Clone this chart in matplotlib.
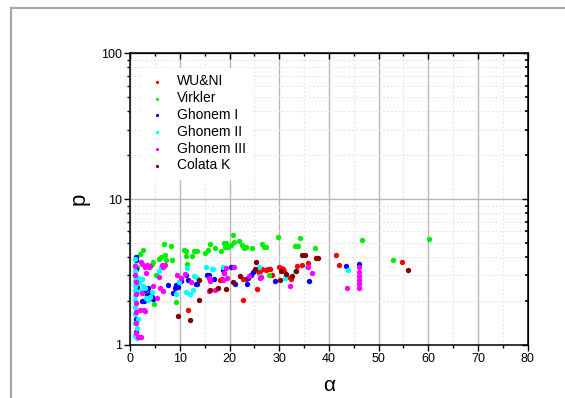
import matplotlib
matplotlib.use("Agg")
import matplotlib.pyplot as plt
import matplotlib.ticker as mticker
from matplotlib.lines import Line2D

plt.rcParams["font.family"] = ["Liberation Sans", "DejaVu Sans"]

# (alpha, p), one list per data set
wuni = [(11.7, 1.75), (18.0, 2.8), (18.5, 2.85), (22.6, 2.04), (22.7, 2.85), (23.2, 2.82),
        (25.4, 3.25), (25.6, 2.42), (26.0, 3.12), (26.2, 3.2), (26.5, 3.3), (27.4, 3.25),
        (27.8, 3.3), (28.1, 3.3), (28.5, 3.02), (30.0, 3.42), (30.3, 3.38), (30.7, 3.32),
        (30.9, 3.23), (31.5, 2.94), (32.3, 2.83), (33.6, 3.48), (34.5, 3.55), (35.8, 3.65),
        (41.5, 4.17), (42.1, 3.55), (54.8, 3.72)]

virkler = [(1.3, 3.4), (1.9, 4.2), (2.5, 4.5), (2.6, 2.3), (3.9, 3.5), (4.4, 3.6), (4.6, 3.7),
           (5.1, 3.0), (4.7, 1.92), (5.7, 3.9), (6.1, 4.0), (6.8, 4.9), (7.0, 4.15), (7.1, 3.85),
           (8.1, 4.75), (8.3, 3.85), (9.3, 1.96), (10.9, 4.5), (11.2, 4.1), (11.2, 4.4),
           (11.5, 3.6), (12.4, 4.1), (12.9, 4.4), (13.4, 4.4), (15.1, 4.25), (15.7, 4.45),
           (16.1, 4.9), (17.0, 4.6), (18.3, 4.4), (18.8, 5.0), (19.0, 4.7), (19.3, 5.0),
           (19.6, 4.7), (20.2, 4.85), (20.6, 5.7), (20.9, 5.05), (21.9, 5.15), (22.4, 4.85),
           (22.8, 4.6), (23.3, 4.7), (24.6, 4.6), (26.6, 4.95), (26.9, 4.7), (27.3, 4.7),
           (27.9, 3.0), (29.7, 5.5), (33.1, 4.8), (33.7, 4.8), (34.2, 5.4), (37.1, 4.6),
           (46.7, 5.25), (52.9, 3.8), (60.2, 5.35)]

ghonem1 = [(1.05, 4.0), (1.05, 3.85), (1.1, 3.3), (1.2, 2.7), (1.3, 2.5), (1.15, 1.23),
           (1.1, 1.5), (2.3, 2.0), (2.7, 2.0), (3.0, 2.4), (3.3, 2.2), (3.6, 2.45), (3.8, 2.2),
           (4.0, 2.27), (4.3, 2.15), (4.6, 2.07), (7.6, 2.58), (8.5, 2.28), (9.0, 2.45),
           (9.3, 2.56), (9.6, 2.5), (9.9, 2.69), (10.3, 2.76), (11.3, 3.02), (11.7, 2.8),
           (13.2, 2.6), (13.5, 2.62), (15.4, 3.02), (15.9, 3.04), (16.9, 2.85), (18.7, 3.27),
           (18.9, 3.1), (20.3, 3.42), (21.0, 2.6), (23.4, 2.6), (23.7, 2.87), (24.4, 3.02),
           (24.8, 3.15), (29.1, 2.76), (36.0, 2.76), (43.4, 3.48), (46.0, 3.58)]

ghonem2 = [(1.0, 3.9), (1.0, 3.55), (1.0, 3.2), (1.0, 2.95), (1.0, 2.75), (1.0, 2.55),
           (1.0, 2.38), (1.0, 2.2), (1.0, 2.02), (1.0, 1.82), (1.0, 1.62), (1.0, 1.42),
           (1.0, 1.15), (1.4, 1.12), (1.3, 1.3), (1.5, 1.5), (1.3, 2.3), (1.6, 2.9), (1.8, 2.65),
           (2.1, 2.4), (2.3, 2.85), (2.6, 2.55), (2.9, 2.45), (3.1, 2.1), (3.5, 2.05),
           (3.9, 2.12), (4.4, 2.3), (5.7, 3.2), (6.2, 3.4), (6.6, 3.45), (9.2, 2.25), (9.8, 2.7),
           (11.3, 2.3), (11.5, 3.35), (12.0, 2.22), (12.6, 2.38), (12.9, 2.95), (13.4, 2.88),
           (15.3, 3.4), (16.4, 3.3), (16.7, 3.32), (18.6, 3.45), (26.0, 3.4), (26.2, 2.95),
           (31.1, 2.86), (33.1, 3.22), (35.6, 3.45), (43.8, 3.27), (46.0, 2.67)]

ghonem3 = [(1.0, 3.5), (0.95, 3.02), (1.05, 2.7), (1.05, 2.25), (1.05, 1.93), (1.05, 1.69),
           (1.05, 1.41), (1.1, 1.2), (1.5, 1.14), (1.9, 1.14), (2.1, 1.13), (2.2, 3.7),
           (2.3, 3.6), (2.3, 2.26), (1.95, 1.75), (2.8, 1.74), (2.9, 1.7), (3.0, 3.45),
           (3.1, 3.1), (3.4, 3.55), (3.8, 3.42), (3.9, 3.5), (4.5, 2.52), (5.3, 2.09),
           (5.8, 2.91), (6.0, 2.45), (6.3, 3.55), (6.5, 3.45), (6.5, 2.33), (7.0, 3.55),
           (9.5, 3.02), (10.3, 2.86), (11.0, 3.05), (12.2, 2.69), (15.8, 2.9), (16.0, 2.74),
           (15.9, 2.33), (17.0, 2.4), (18.7, 2.81), (18.9, 3.1), (19.3, 3.36), (19.5, 2.87),
           (20.9, 3.42), (23.8, 2.95), (26.1, 2.87), (26.4, 2.92), (32.1, 2.54), (35.7, 3.45),
           (36.5, 3.12), (43.7, 2.45), (46.0, 3.4), (46.0, 3.18), (46.0, 2.98), (46.0, 2.8),
           (46.0, 2.62), (46.0, 2.44)]

colata = [(9.6, 1.58), (12.0, 1.48), (13.8, 2.03), (13.9, 2.78), (16.0, 2.38), (17.7, 2.46),
          (19.3, 2.42), (20.7, 2.72), (22.1, 2.98), (25.1, 3.33), (25.4, 3.68), (30.1, 2.78),
          (30.4, 3.24), (31.4, 3.07), (32.6, 2.95), (33.3, 3.24), (34.6, 4.17), (35.1, 4.17),
          (37.3, 3.92), (37.8, 3.92), (56.0, 3.28)]

names = ["WU&NI", "Virkler", "Ghonem I", "Ghonem II", "Ghonem III", "Colata K"]
colors = ["#ff0000", "#00ee00", "#0000ff", "#00ffff", "#ff00ff", "#800000"]
sets = [wuni, virkler, ghonem1, ghonem2, ghonem3, colata]

x_ticks = [0, 10, 20, 30, 40, 50, 60, 70, 80]
y_ticks = [1, 10, 100]
y_tick_labels = ["1", "10", "100"]


def draw():
    fig = plt.figure(figsize=(5.65, 3.98), dpi=100)
    ax = fig.add_axes([0.2306, 0.1332, 0.7033, 0.7329])

    for name, col, pts in zip(names, colors, sets):
        xs = [p[0] for p in pts]
        ys = [p[1] for p in pts]
        ax.scatter(xs, ys, s=15, color=col, label=name, linewidths=0, zorder=3)

    ax.set_yscale("log")
    ax.set_xlim(0, 80)
    ax.set_ylim(1, 100)

    ax.set_xticks(x_ticks)
    ax.xaxis.set_minor_locator(mticker.MultipleLocator(5))
    ax.set_yticks(y_ticks)
    ax.set_yticklabels(y_tick_labels)
    ax.yaxis.set_minor_locator(mticker.LogLocator(base=10, subs=[2, 3, 4, 5, 6, 7, 8, 9]))
    ax.yaxis.set_minor_formatter(mticker.NullFormatter())

    ax.grid(which="major", color="#b8b8b8", linewidth=1.0, linestyle="-")
    ax.grid(which="minor", color="#e2e2e2", linewidth=0.8, linestyle=(0, (1.5, 2)))
    ax.set_axisbelow(True)

    ax.tick_params(which="major", direction="out", length=4, width=1, labelsize=9,
                   pad=2, color="black")
    ax.tick_params(which="minor", direction="out", length=2.5, width=1, color="black")
    for s in ax.spines.values():
        s.set_linewidth(1.1)

    top = ax.secondary_xaxis("top")
    top.set_xticks(x_ticks)
    top.xaxis.set_minor_locator(mticker.MultipleLocator(5))
    top.tick_params(which="both", direction="in", labeltop=False, color="black")
    top.tick_params(which="major", length=4, width=1)
    top.tick_params(which="minor", length=2.5, width=1)
    top.set_zorder(4)

    right = ax.secondary_yaxis("right")
    right.set_yticks(y_ticks)
    right.yaxis.set_minor_locator(mticker.LogLocator(base=10, subs=[2, 3, 4, 5, 6, 7, 8, 9]))
    right.tick_params(which="both", direction="in", labelright=False, color="black")
    right.tick_params(which="major", length=4, width=1)
    right.tick_params(which="minor", length=2.5, width=1.2)
    right.set_zorder(4)

    ax.set_xlabel("\u03b1", fontsize=15, labelpad=8)
    ax.set_ylabel("p", fontsize=16, labelpad=8)

    leg = ax.legend(loc="upper left", bbox_to_anchor=(0.012, 0.975), frameon=True,
                    fontsize=10, markerscale=0.6, handletextpad=0.85,
                    labelspacing=0.2, borderpad=0.5, handlelength=1.2)
    leg.get_frame().set_edgecolor("white")
    leg.get_frame().set_facecolor("white")
    leg.get_frame().set_alpha(1)

    # grey frame round the picture
    fig.add_artist(Line2D([11 / 565, 11 / 565], [0, 1 - 8 / 398], color="#a8a8a8",
                          linewidth=1.6, transform=fig.transFigure))
    fig.add_artist(Line2D([11 / 565, 1], [1 - 8 / 398, 1 - 8 / 398], color="#a8a8a8",
                          linewidth=1.6, transform=fig.transFigure))

    fig.savefig("out.png", dpi=100)


draw()
